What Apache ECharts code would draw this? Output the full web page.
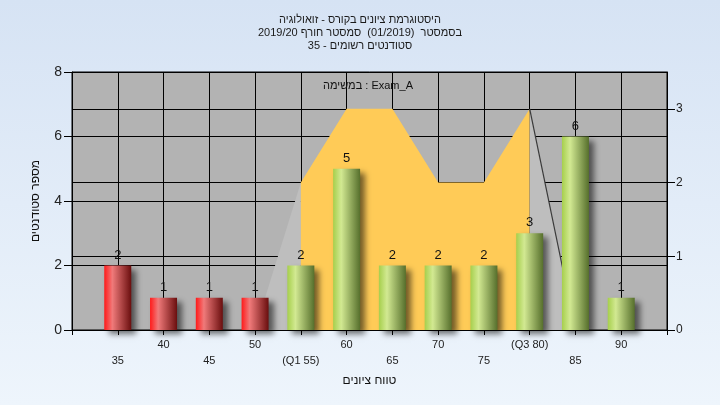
<!DOCTYPE html>
<html><head><meta charset="utf-8">
<script src="https://cdn.jsdelivr.net/npm/echarts@6/dist/echarts.min.js"></script>
<style>html,body{margin:0;padding:0;}#c{width:720px;height:405px;background:linear-gradient(180deg,#d6e3f4 0%,#eef5fc 100%);}</style>
</head><body><div id="c"></div>
<script>
const titleLines = ['היסטוגרמת ציונים בקורס - זואולוגיה', 'בסמסטר  (01/2019)  סמסטר חורף 2019/20', 'סטודנטים רשומים - 35'];
const taskLabel = 'במשימה : Exam_A';
const xAxisTitle = 'טווח ציונים';
const yAxisTitle = 'מספר סטודנטים';
const categories = [35, 40, 45, 50, 55, 60, 65, 70, 75, 80, 85, 90];
const tickLabels = ['35', '40', '45', '50', '(Q1 55)', '60', '65', '70', '75', '(Q3 80)', '85', '90'];
const counts = [2, 1, 1, 1, 2, 5, 2, 2, 2, 3, 6, 1];
const passMark = 55;
const curveX = [50, 55, 60, 65, 70, 75, 80, 85];
const curveY = [0, 2, 3, 3, 2, 2, 3, 0];
const q1 = 55, q3 = 80;

const FF = 'Liberation Sans, Arial, DejaVu Sans, sans-serif';
const redGrad = new echarts.graphic.LinearGradient(0, 0, 1, 0, [
  {offset: 0, color: '#ff1a1a'}, {offset: 0.3, color: '#f07a7a'}, {offset: 1, color: '#6a0e0e'}]);
const greenGrad = new echarts.graphic.LinearGradient(0, 0, 1, 0, [
  {offset: 0, color: '#a6cf4c'}, {offset: 0.3, color: '#d2e992'}, {offset: 1, color: '#566f2c'}]);

const pts = curveX.map((x, i) => [x, curveY[i]]);
const leftPart = pts.filter(p => p[0] <= q1);
const midPart = pts.filter(p => p[0] >= q1 && p[0] <= q3);
const rightPart = pts.filter(p => p[0] >= q3);

const barData = categories.map((c, i) => ({
  value: [c, counts[i]],
  itemStyle: {color: c < passMark ? redGrad : greenGrad}
}));

const chart = echarts.init(document.getElementById('c'), null, {renderer: 'canvas'});
chart.setOption({
  animation: false,
  backgroundColor: 'transparent',
  title: {
    text: titleLines.join('\n'), left: 'center', top: 8,
    textStyle: {fontSize: 11, fontWeight: 'normal', lineHeight: 13, color: '#1a1a1a', fontFamily: FF}
  },
  grid: {left: 72, right: 53, top: 72, bottom: 75, show: true, backgroundColor: '#b3b3b3', borderColor: '#000', borderWidth: 1},
  graphic: [{
    type: 'text', x: 368, y: 86, z: 100,
    style: {text: taskLabel, textAlign: 'center', textVerticalAlign: 'middle', font: '11px ' + FF, fill: '#111'}
  }],
  xAxis: {
    type: 'value', min: 30, max: 95, interval: 5,
    axisLine: {show: true, lineStyle: {color: '#000'}},
    axisTick: {show: true, length: 5, lineStyle: {color: '#000'}},
    splitLine: {show: true, lineStyle: {color: '#000', width: 1}},
    axisLabel: {
      fontSize: 11, color: '#222', margin: 7, lineHeight: 16, fontFamily: FF,
      formatter: v => {
        const i = categories.indexOf(v);
        if (i < 0) return '';
        return i % 2 === 0 ? '\n' + tickLabels[i] : tickLabels[i];
      }
    },
    name: xAxisTitle, nameLocation: 'middle', nameGap: 45,
    nameTextStyle: {fontSize: 12, color: '#111', fontFamily: FF}
  },
  yAxis: [{
    type: 'value', min: 0, max: 8, interval: 2, position: 'left',
    axisLine: {show: true, lineStyle: {color: '#000'}},
    axisTick: {show: true, length: 8, lineStyle: {color: '#000'}},
    splitLine: {show: true, lineStyle: {color: '#000', width: 1}},
    axisLabel: {fontSize: 14, color: '#222', margin: 10, fontFamily: FF},
    name: yAxisTitle, nameLocation: 'middle', nameGap: 30, nameRotate: 90,
    nameTextStyle: {fontSize: 12, color: '#111', fontFamily: FF}
  }, {
    type: 'value', min: 0, max: 3.5, interval: 1, position: 'right',
    axisLine: {show: true, lineStyle: {color: '#000'}},
    axisTick: {show: true, length: 8, lineStyle: {color: '#000'}},
    splitLine: {show: true, lineStyle: {color: '#000', width: 1}},
    axisLabel: {fontSize: 12, color: '#222', margin: 9, fontFamily: FF, showMaxLabel: false}
  }],
  series: [
    {type: 'line', yAxisIndex: 1, data: leftPart, symbol: 'none', lineStyle: {width: 0, opacity: 0}, areaStyle: {color: '#bebebe', opacity: 1}},
    {type: 'line', yAxisIndex: 1, data: midPart, symbol: 'none', lineStyle: {width: 0, opacity: 0}, areaStyle: {color: '#ffcb57', opacity: 1}},
    {type: 'line', yAxisIndex: 1, data: rightPart, symbol: 'none', lineStyle: {width: 1.2, color: '#3a3a3a'}, areaStyle: {color: '#bebebe', opacity: 1}},
    {
      type: 'bar', yAxisIndex: 0, data: barData, barWidth: 27, z: 5,
      itemStyle: {shadowBlur: 6, shadowColor: 'rgba(0,0,0,0.55)', shadowOffsetX: 5, shadowOffsetY: 4},
      label: {show: true, position: 'top', distance: 4, fontSize: 13, color: '#111', fontFamily: FF, formatter: p => p.value[1]}
    }
  ]
});
</script>
</body></html>
